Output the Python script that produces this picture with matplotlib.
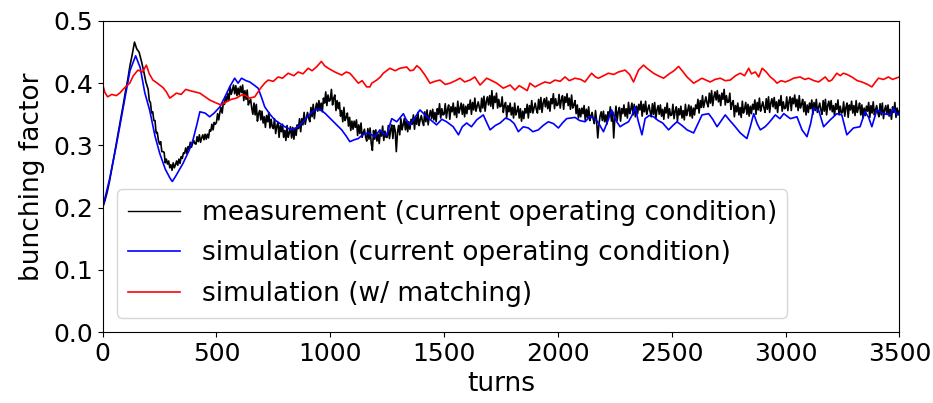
import numpy as np
import matplotlib
matplotlib.use("Agg")
import matplotlib.pyplot as plt

# measurement: every 10 turns up to 190, then every 5 turns up to 3500
meas_turns = np.concatenate([np.arange(0, 200, 10), np.arange(200, 3501, 5)])
meas_values = [
    0.200, 0.211, 0.225, 0.242, 0.262, 0.282, 0.303, 0.323, 0.344, 0.364,
    0.386, 0.405, 0.428, 0.446, 0.466, 0.455, 0.450, 0.436, 0.420, 0.402,
    # 200
    .390, .372, .369, .352, .354, .340, .340, .320, .321, .308,
    .302, .306, .290, .290, .289, .272, .278, .270, .275, .264,
    .269, .260, .272, .264, .269, .275, .268, .278, .271, .282,
    .279, .288, .287, .296, .287, .298, .294, .305, .297, .303,
    .308, .303, .302, .314, .306, .317, .305, .312, .317, .309,
    .318, .310, .318, .312, .325, .323, .334, .325, .337, .334,
    .337, .351, .341, .353, .361, .352, .368, .366, .379, .371,
    .383, .373, .395, .382, .389, .397, .383, .396, .380, .392,
    # 600
    .381, .395, .385, .397, .372, .388, .374, .389, .365, .370,
    .374, .360, .350, .368, .349, .366, .339, .351, .356, .341,
    .355, .336, .346, .329, .348, .338, .353, .328, .342, .330,
    .327, .343, .319, .331, .337, .313, .332, .322, .334, .313,
    .324, .308, .332, .313, .320, .330, .312, .329, .310, .327,
    .316, .333, .327, .343, .322, .343, .333, .353, .334, .344,
    .353, .344, .338, .361, .346, .366, .343, .359, .368, .355,
    .372, .356, .368, .354, .376, .368, .386, .364, .381, .371,
    # 1000
    .373, .390, .365, .376, .381, .356, .372, .359, .369, .347,
    .356, .338, .361, .340, .345, .352, .331, .345, .324, .339,
    .326, .339, .329, .341, .316, .333, .319, .336, .313, .320,
    .326, .314, .307, .327, .310, .328, .303, .292, .324, .310,
    .325, .307, .318, .303, .323, .315, .331, .308, .323, .313,
    .313, .332, .311, .325, .333, .311, .332, .324, .290, .320,
    .332, .317, .343, .325, .333, .343, .325, .341, .322, .338,
    .326, .342, .334, .349, .326, .346, .334, .353, .332, .341,
    .348, .338, .332, .354, .338, .357, .333, .348, .356, .343,
    .358, .341, .353, .338, .359, .350, .367, .344, .359, .349,
    # 1500
    .350, .367, .344, .358, .365, .342, .362, .354, .368, .349,
    .361, .345, .371, .352, .359, .368, .350, .366, .346, .363,
    .351, .366, .358, .373, .350, .369, .357, .376, .355, .363,
    .370, .360, .354, .376, .360, .379, .355, .370, .378, .365,
    .380, .363, .388, .359, .379, .369, .384, .360, .374, .362,
    .363, .378, .353, .364, .369, .345, .364, .354, .368, .349,
    .361, .344, .368, .349, .355, .363, .344, .359, .339, .355,
    .343, .359, .352, .366, .344, .364, .353, .372, .352, .360,
    .368, .358, .352, .374, .358, .377, .353, .368, .375, .362,
    .377, .359, .371, .355, .375, .367, .383, .359, .375, .364,
    # 2000
    .365, .382, .360, .373, .380, .358, .378, .369, .383, .364,
    .376, .358, .381, .360, .365, .372, .351, .365, .344, .359,
    .346, .360, .351, .364, .340, .358, .345, .362, .340, .347,
    .353, .342, .335, .356, .339, .312, .333, .347, .354, .340,
    .355, .338, .349, .334, .354, .346, .362, .339, .354, .312,
    .345, .363, .340, .354, .361, .339, .359, .351, .365, .347,
    .359, .344, .369, .351, .358, .368, .349, .366, .346, .363,
    .351, .366, .357, .371, .347, .366, .354, .371, .350, .358,
    .365, .354, .346, .367, .350, .369, .343, .357, .364, .350,
    .365, .347, .358, .342, .361, .352, .368, .344, .359, .348,
    # 2500
    .349, .366, .343, .355, .362, .339, .359, .349, .363, .344,
    .356, .341, .366, .348, .356, .365, .347, .363, .344, .360,
    .349, .365, .359, .374, .352, .372, .361, .380, .361, .370,
    .378, .368, .362, .384, .368, .388, .364, .378, .386, .373,
    .388, .370, .381, .364, .384, .374, .390, .365, .380, .369,
    .370, .384, .358, .368, .372, .346, .364, .354, .368, .349,
    .361, .345, .371, .352, .359, .369, .350, .366, .347, .363,
    .351, .366, .358, .373, .350, .369, .357, .376, .355, .363,
    .370, .360, .353, .375, .358, .378, .353, .368, .375, .362,
    .377, .359, .370, .353, .373, .364, .380, .355, .370, .359,
    # 3000
    .360, .378, .356, .370, .378, .356, .376, .367, .381, .362,
    .374, .356, .380, .360, .366, .374, .354, .370, .349, .365,
    .353, .368, .359, .373, .350, .369, .356, .374, .353, .361,
    .368, .357, .350, .372, .355, .374, .349, .364, .371, .357,
    .372, .354, .364, .348, .367, .358, .373, .349, .363, .352,
    .353, .370, .347, .361, .368, .345, .365, .357, .371, .352,
    .364, .348, .372, .353, .360, .368, .349, .365, .344, .360,
    .348, .363, .355, .369, .345, .364, .352, .370, .349, .357,
    .364, .353, .346, .367, .349, .368, .343, .357, .364, .350,
    .365, .347, .358, .342, .362, .353, .369, .345, .360, .349,
    .356,
]

# simulation, current operating condition
sim_turns = [
    0, 30, 60, 90, 120, 145, 165, 185, 207, 230, 251, 275, 295, 306, 320,
    353, 380, 397, 415, 427, 450, 470, 490, 515, 540, 558, 580, 595, 610,
    630, 646, 665, 683, 700, 712, 735, 756, 780, 800, 829, 859, 888, 910,
    932, 954, 976, 1006, 1030, 1050, 1070, 1086, 1105, 1123, 1145, 1167,
    1196, 1218, 1235, 1248, 1270, 1292, 1321, 1335, 1350, 1394, 1424, 1467,
    1490, 1511, 1540, 1563, 1580, 1599, 1620, 1643, 1672, 1702, 1725, 1746,
    1770, 1790, 1808, 1826, 1848, 1870, 1890, 1914, 1935, 1958, 1980, 2002,
    2020, 2038, 2075, 2095, 2119, 2140, 2163, 2180, 2200, 2220, 2236, 2255,
    2273, 2290, 2310, 2325, 2339, 2352, 2369, 2383, 2400, 2420, 2440, 2460,
    2486, 2505, 2523, 2545, 2567, 2596, 2615, 2633, 2662, 2680, 2699, 2718,
    2735, 2755, 2772, 2801, 2830, 2845, 2860, 2875, 2889, 2910, 2926, 2955,
    2975, 2992, 3021, 3050, 3072, 3094, 3110, 3123, 3145, 3167, 3196, 3225,
    3247, 3269, 3298, 3327, 3349, 3365, 3379, 3401, 3430, 3459, 3474, 3489,
    3500,
]
sim_values = [
    0.200, 0.245, 0.300, 0.360, 0.420, 0.444, 0.425, 0.385, 0.356, 0.315,
    0.287, 0.262, 0.248, 0.242, 0.250, 0.271, 0.292, 0.309, 0.335, 0.354,
    0.352, 0.346, 0.352, 0.362, 0.380, 0.394, 0.408, 0.400, 0.408, 0.404,
    0.402, 0.397, 0.392, 0.375, 0.362, 0.350, 0.341, 0.335, 0.330, 0.325,
    0.330, 0.341, 0.350, 0.357, 0.358, 0.352, 0.341, 0.332, 0.325, 0.315,
    0.306, 0.309, 0.311, 0.318, 0.320, 0.314, 0.325, 0.318, 0.317, 0.343,
    0.338, 0.351, 0.340, 0.333, 0.357, 0.346, 0.333, 0.342, 0.338, 0.330,
    0.317, 0.330, 0.336, 0.330, 0.341, 0.349, 0.325, 0.332, 0.336, 0.344,
    0.341, 0.335, 0.322, 0.330, 0.328, 0.322, 0.325, 0.332, 0.338, 0.335,
    0.328, 0.336, 0.343, 0.345, 0.340, 0.338, 0.346, 0.343, 0.335, 0.322,
    0.340, 0.357, 0.340, 0.330, 0.334, 0.338, 0.348, 0.362, 0.340, 0.317,
    0.343, 0.348, 0.346, 0.340, 0.336, 0.325, 0.332, 0.338, 0.332, 0.325,
    0.320, 0.335, 0.349, 0.351, 0.342, 0.330, 0.340, 0.349, 0.340, 0.333,
    0.320, 0.311, 0.330, 0.351, 0.335, 0.325, 0.330, 0.336, 0.349, 0.343,
    0.351, 0.343, 0.346, 0.325, 0.314, 0.335, 0.360, 0.357, 0.330, 0.341,
    0.351, 0.349, 0.317, 0.328, 0.330, 0.354, 0.345, 0.330, 0.357, 0.351,
    0.349, 0.360, 0.349, 0.352,
]

# simulation with matching
match_turns = [
    0, 10, 22, 40, 60, 75, 95, 119, 135, 155, 175, 192, 205, 221, 240, 265,
    280, 295, 310, 324, 345, 365, 383, 405, 427, 450, 470, 500, 520, 544,
    565, 588, 610, 624, 645, 668, 698, 712, 727, 750, 771, 790, 815, 840,
    859, 880, 903, 920, 939, 961, 975, 991, 1020, 1050, 1070, 1086, 1105,
    1123, 1140, 1160, 1174, 1182, 1204, 1220, 1233, 1262, 1285, 1306, 1336,
    1350, 1365, 1380, 1394, 1416, 1438, 1460, 1482, 1505, 1526, 1550, 1570,
    1590, 1614, 1635, 1658, 1687, 1710, 1731, 1760, 1790, 1811, 1830, 1848,
    1865, 1877, 1899, 1920, 1943, 1965, 1987, 2010, 2031, 2050, 2075, 2100,
    2119, 2135, 2148, 2165, 2178, 2200, 2222, 2245, 2266, 2295, 2315, 2332,
    2354, 2376, 2391, 2420, 2440, 2464, 2493, 2510, 2530, 2550, 2567, 2596,
    2615, 2633, 2650, 2669, 2690, 2713, 2735, 2757, 2780, 2801, 2820, 2838,
    2850, 2867, 2882, 2897, 2915, 2933, 2950, 2962, 2980, 2999, 3020, 3035,
    3064, 3085, 3101, 3125, 3145, 3160, 3174, 3190, 3203, 3225, 3240, 3254,
    3270, 3291, 3315, 3335, 3360, 3379, 3395, 3408, 3430, 3452, 3470, 3484,
    3500,
]
match_values = [
    0.398, 0.385, 0.378, 0.382, 0.380, 0.384, 0.392, 0.400, 0.412, 0.421,
    0.418, 0.429, 0.415, 0.405, 0.400, 0.393, 0.386, 0.376, 0.380, 0.384,
    0.382, 0.390, 0.388, 0.386, 0.384, 0.378, 0.373, 0.368, 0.365, 0.370,
    0.374, 0.376, 0.381, 0.381, 0.376, 0.378, 0.394, 0.400, 0.405, 0.403,
    0.410, 0.408, 0.416, 0.412, 0.418, 0.415, 0.424, 0.420, 0.426, 0.435,
    0.428, 0.424, 0.418, 0.413, 0.418, 0.416, 0.408, 0.400, 0.404, 0.394,
    0.394, 0.400, 0.405, 0.410, 0.416, 0.424, 0.420, 0.424, 0.426, 0.420,
    0.421, 0.428, 0.424, 0.413, 0.400, 0.403, 0.405, 0.398, 0.400, 0.404,
    0.408, 0.402, 0.405, 0.410, 0.397, 0.408, 0.404, 0.400, 0.392, 0.397,
    0.389, 0.396, 0.392, 0.388, 0.400, 0.394, 0.398, 0.402, 0.400, 0.405,
    0.403, 0.410, 0.404, 0.408, 0.406, 0.402, 0.410, 0.416, 0.410, 0.408,
    0.412, 0.416, 0.414, 0.418, 0.421, 0.414, 0.402, 0.421, 0.429, 0.424,
    0.416, 0.412, 0.408, 0.416, 0.420, 0.427, 0.418, 0.410, 0.400, 0.404,
    0.408, 0.405, 0.402, 0.406, 0.408, 0.404, 0.405, 0.412, 0.416, 0.412,
    0.424, 0.415, 0.418, 0.410, 0.424, 0.418, 0.410, 0.405, 0.400, 0.404,
    0.402, 0.405, 0.408, 0.410, 0.406, 0.408, 0.404, 0.402, 0.406, 0.410,
    0.403, 0.405, 0.416, 0.412, 0.416, 0.414, 0.410, 0.404, 0.402, 0.398,
    0.394, 0.402, 0.408, 0.406, 0.410, 0.406, 0.408, 0.410,
]

labels = [
    "measurement (current operating condition)",
    "simulation (current operating condition)",
    "simulation (w/ matching)",
]

fig = plt.figure(figsize=(9.33, 4.03), dpi=100)
ax = fig.add_axes([0.110, 0.176, 0.854, 0.772])

ax.plot(meas_turns, meas_values, color="k", lw=1.2, label=labels[0])
ax.plot(sim_turns, sim_values, color="b", lw=1.2, label=labels[1])
ax.plot(match_turns, match_values, color="r", lw=1.2, label=labels[2])

ax.set_xlim(0, 3500)
ax.set_ylim(0, 0.5)
ax.set_xticks(range(0, 3501, 500))
ax.set_yticks([0.0, 0.1, 0.2, 0.3, 0.4, 0.5])
ax.tick_params(labelsize=18)
ax.set_xlabel("turns", fontsize=19, labelpad=4)
ax.set_ylabel("bunching factor", fontsize=19, labelpad=6)
leg = ax.legend(loc="lower left", fontsize=19, labelspacing=0.55,
                borderaxespad=0.55)
leg.get_lines()[0].set_linewidth(1.0)

fig.savefig("out.png", dpi=100)
